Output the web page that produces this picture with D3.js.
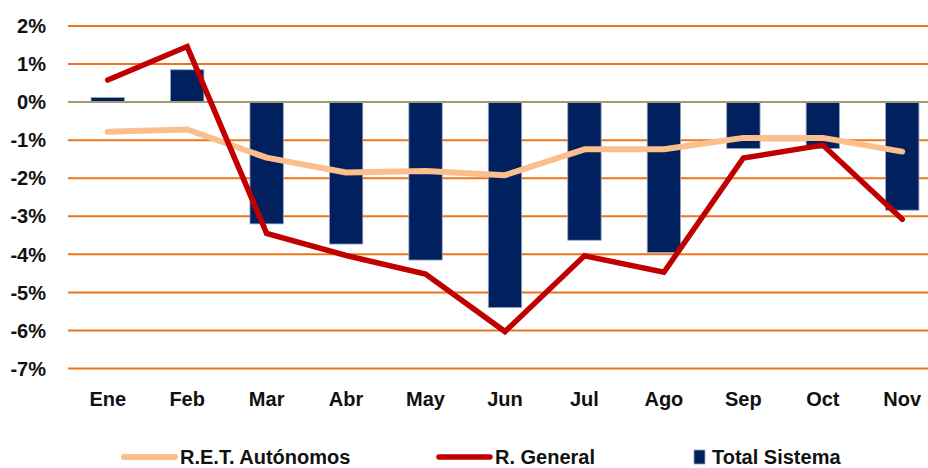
<!DOCTYPE html>
<html><head><meta charset="utf-8">
<script src="https://cdn.jsdelivr.net/npm/d3@7"></script>
<style>
html,body{margin:0;padding:0;background:#fff;}
svg{display:block;font-family:"Liberation Sans",Arial,sans-serif;font-weight:bold;}
</style></head>
<body>
<svg id="c" width="928" height="468"></svg>
<script>
const months = ["Ene","Feb","Mar","Abr","May","Jun","Jul","Ago","Sep","Oct","Nov"];
const totalSistema = [0.12, 0.85, -3.20, -3.73, -4.15, -5.40, -3.63, -3.95, -1.22, -1.22, -2.84];
const rGeneral = [0.58, 1.46, -3.45, -4.03, -4.52, -6.03, -4.04, -4.47, -1.47, -1.13, -3.08];
const retAutonomos = [-0.78, -0.72, -1.46, -1.85, -1.81, -1.92, -1.24, -1.24, -0.94, -0.94, -1.30];
const yTicks = [2, 1, 0, -1, -2, -3, -4, -5, -6, -7];
const seriesNames = ["R.E.T. Autónomos", "R. General", "Total Sistema"];

const svg = d3.select("#c");
const x = d3.scaleBand().domain(months).range([68, 942]).paddingInner(0.58).paddingOuter(0.29);
const y = d3.scaleLinear().domain([-7, 2]).range([368.5, 26]);
const cx = d => x(d) + x.bandwidth() / 2;

// gridlines
svg.append("g").selectAll("line").data(yTicks.filter(t => t !== 0)).join("line")
  .attr("x1", 68).attr("x2", 928)
  .attr("y1", d => y(d)).attr("y2", d => y(d))
  .attr("stroke", "#EE7419").attr("stroke-width", 2);

// bars
svg.append("g").selectAll("rect").data(months).join("rect")
  .attr("x", d => x(d))
  .attr("width", x.bandwidth())
  .attr("y", (d, i) => y(Math.max(0, totalSistema[i])))
  .attr("height", (d, i) => Math.abs(y(totalSistema[i]) - y(0)))
  .attr("fill", "#00215E")
  .attr("stroke", "#97A6C6").attr("stroke-width", 0.8);

// zero line
svg.append("line").attr("x1", 68).attr("x2", 928).attr("y1", y(0)).attr("y2", y(0))
  .attr("stroke", "#A09C6E").attr("stroke-width", 2);

const line = d3.line().x((d, i) => cx(months[i])).y(d => y(d));
svg.append("path").datum(retAutonomos).attr("d", line)
  .attr("fill", "none").attr("stroke", "#FBBE8D").attr("stroke-width", 6)
  .attr("stroke-linecap", "round").attr("stroke-linejoin", "round");
svg.append("path").datum(rGeneral).attr("d", line)
  .attr("fill", "none").attr("stroke", "#C00000").attr("stroke-width", 5.5)
  .attr("stroke-linecap", "round").attr("stroke-linejoin", "miter");

// y labels
svg.append("g").selectAll("text").data(yTicks).join("text")
  .attr("x", 46).attr("y", d => y(d)).attr("dy", "0.36em")
  .attr("text-anchor", "end").attr("font-size", 20).attr("fill", "#111")
  .text(d => d + "%");

// x labels
svg.append("g").selectAll("text").data(months).join("text")
  .attr("x", d => cx(d)).attr("y", 406)
  .attr("text-anchor", "middle").attr("font-size", 20).attr("fill", "#111")
  .text(d => d);

// legend
const lg = svg.append("g").attr("font-size", 20).attr("fill", "#111");
lg.append("line").attr("x1", 124).attr("x2", 175).attr("y1", 457).attr("y2", 457)
  .attr("stroke", "#FBBE8D").attr("stroke-width", 6).attr("stroke-linecap", "round");
lg.append("text").attr("x", 180).attr("y", 464).text(seriesNames[0]);
lg.append("line").attr("x1", 439).attr("x2", 490).attr("y1", 457).attr("y2", 457)
  .attr("stroke", "#C00000").attr("stroke-width", 5.5).attr("stroke-linecap", "round");
lg.append("text").attr("x", 495).attr("y", 464).text(seriesNames[1]);
lg.append("rect").attr("x", 694).attr("y", 450).attr("width", 11).attr("height", 14)
  .attr("fill", "#00215E").attr("stroke", "#97A6C6").attr("stroke-width", 0.8);
lg.append("text").attr("x", 712).attr("y", 464).text(seriesNames[2]);
</script>
</body></html>
